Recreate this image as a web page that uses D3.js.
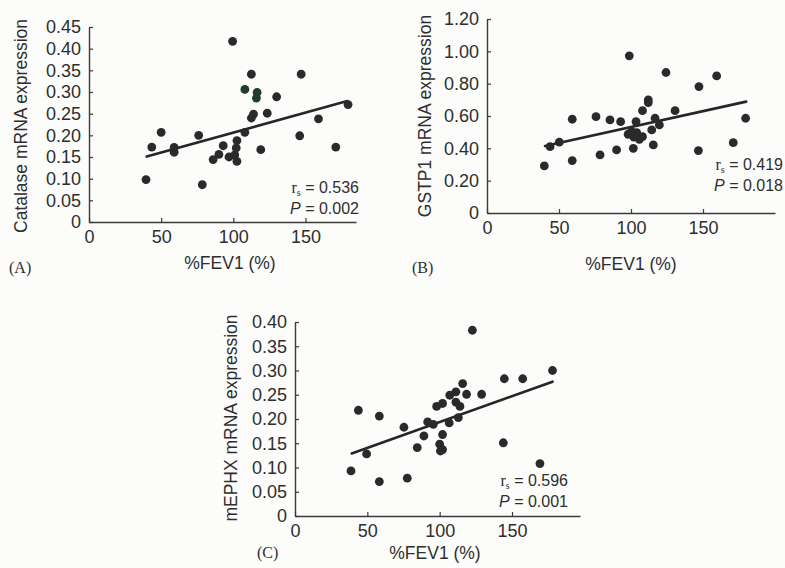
<!DOCTYPE html>
<html><head><meta charset="utf-8">
<script src="https://cdn.jsdelivr.net/npm/d3@7/dist/d3.min.js"></script>
<style>
html,body{margin:0;padding:0;background:#fcfcfb;}
svg{display:block;}
</style></head>
<body>
<svg id="c" width="785" height="568"></svg>
<script>
// ---------- data ----------
const xTicks = [0, 50, 100, 150];
const yTicksA = [0, 0.05, 0.10, 0.15, 0.20, 0.25, 0.30, 0.35, 0.40, 0.45];
const yTicksB = [0, 0.20, 0.40, 0.60, 0.80, 1.00, 1.20];
const yTicksC = [0, 0.05, 0.10, 0.15, 0.20, 0.25, 0.30, 0.35, 0.40];

// Panel A: Catalase mRNA expression vs %FEV1
const catalase = [
  [39.5,0.098],[43.5,0.173],[50,0.207],[59,0.172],[59,0.161],[76,0.200],[78.5,0.086],
  [86,0.144],[90,0.156],[93,0.176],[97,0.150],[99.5,0.417],[101,0.155],[102.5,0.140],
  [102,0.171],[102.5,0.188],[108,0.207],[112.5,0.341],[112.5,0.240],[114,0.249],
  [119,0.167],[123.5,0.251],[130,0.289],[146,0.199],[147,0.341],[159,0.238],[171,0.173],[179.5,0.271]
];
const catalaseGreen = [[108,0.306],[116.5,0.299],[116,0.286]];
const catalaseFit = [[40,0.151],[179,0.279]];

// Panel B: GSTP1 mRNA expression vs %FEV1
const gstp1 = [
  [39.8,0.291],[43.8,0.41],[50.2,0.438],[59.2,0.58],[59.2,0.324],[75.7,0.596],[78.5,0.359],
  [85.4,0.576],[90,0.39],[92.8,0.565],[98.8,0.972],[98,0.487],[100.5,0.503],[101.6,0.40],
  [102,0.469],[103.5,0.565],[104,0.497],[105.8,0.456],[108,0.472],[108,0.633],[112,0.70],
  [112,0.683],[114.4,0.514],[115.5,0.421],[116.7,0.586],[119.7,0.545],[124.3,0.869],
  [130.6,0.633],[146.8,0.386],[147.2,0.782],[159.5,0.848],[171,0.435],[179.6,0.586]
];
const gstp1Fit = [[40.3,0.415],[180,0.689]];

// Panel C: mEPHX mRNA expression vs %FEV1
const mephx = [
  [38.7,0.093],[43.8,0.218],[49.5,0.128],[58.3,0.206],[58.3,0.071],[75.3,0.183],[77.6,0.078],
  [84.5,0.141],[89.1,0.165],[91.7,0.194],[95.6,0.189],[97.9,0.226],[100,0.148],[100.5,0.134],
  [102,0.137],[102,0.232],[102,0.168],[106.6,0.192],[107,0.249],[111.2,0.256],[111.2,0.235],
  [114,0.226],[112.9,0.203],[115.9,0.273],[118.6,0.251],[122.6,0.383],[129,0.251],
  [144.7,0.283],[144,0.151],[157.4,0.283],[169.3,0.108],[178,0.30]
];
const mephxFit = [[39.2,0.129],[178,0.277]];

const statsA = ["0.536", "0.002"];
const statsB = ["0.419", "0.018"];
const statsC = ["0.596", "0.001"];

// ---------- drawing ----------
const svg = d3.select('#c');
const SANS = "'Liberation Sans', Arial, Helvetica, sans-serif";
const SERIF = "'Liberation Serif', 'Times New Roman', serif";
const INK = '#2e2e2e';

function panel(cfg) {
  const g = svg.append('g');
  const x = d3.scaleLinear().domain([0, cfg.xMax]).range([cfg.x0, cfg.x1]);
  const y = d3.scaleLinear().domain([0, cfg.yMax]).range([cfg.y0, cfg.y1]);

  const xa = d3.axisBottom(x).tickValues(xTicks).tickSizeInner(-4).tickSizeOuter(0)
    .tickPadding(8).tickFormat(d3.format('d'));
  const ya = d3.axisLeft(y).tickValues(cfg.yTicks).tickSizeInner(-4).tickSizeOuter(0)
    .tickPadding(8).tickFormat(d => d === 0 ? '0' : d3.format('.2f')(d));

  const gx = g.append('g').attr('transform', `translate(0,${cfg.y0})`).call(xa);
  const gy = g.append('g').attr('transform', `translate(${cfg.x0},0)`).call(ya);
  [gx, gy].forEach(a => {
    a.select('.domain').attr('stroke', '#3a3a3a').attr('stroke-width', 1.4);
    a.selectAll('.tick line').attr('stroke', '#3a3a3a').attr('stroke-width', 1.2);
    a.selectAll('.tick text').attr('fill', INK).style('font-family', SANS).style('font-size', '18px');
  });

  // fit line
  const line = d3.line().x(d => x(d[0])).y(d => y(d[1]));
  g.append('path').datum(cfg.fit).attr('d', line)
    .attr('fill', 'none').attr('stroke', '#262626').attr('stroke-width', 2.6).attr('stroke-linecap', 'round');

  // points
  g.selectAll('circle.p').data(cfg.pts).join('circle').attr('class', 'p')
    .attr('cx', d => x(d[0])).attr('cy', d => y(d[1])).attr('r', 4.4).attr('fill', '#2a2a2a');
  if (cfg.green) {
    g.selectAll('circle.g').data(cfg.green).join('circle').attr('class', 'g')
      .attr('cx', d => x(d[0])).attr('cy', d => y(d[1])).attr('r', 4.4).attr('fill', '#1f3d2f');
  }

  // y label
  g.append('text').attr('transform', `translate(${cfg.ylx},${cfg.yly}) rotate(-90)`)
    .attr('text-anchor', 'middle').attr('fill', INK)
    .style('font-family', SANS).style('font-size', '17.5px').text(cfg.ylabel);
  // x label
  g.append('text').attr('x', cfg.xlx).attr('y', cfg.xly).attr('text-anchor', 'middle').attr('fill', INK)
    .style('font-family', SANS).style('font-size', '17.5px').text('%FEV1 (%)');
  // panel letter
  g.append('text').attr('x', cfg.lx).attr('y', cfg.ly).attr('fill', INK)
    .style('font-family', SERIF).style('font-size', '16px').text(cfg.letter);

  // stats
  const t1 = g.append('text').attr('x', cfg.sx).attr('y', cfg.sy).attr('text-anchor', 'end').attr('fill', INK)
    .style('font-family', SANS).style('font-size', '16px');
  t1.append('tspan').style('font-family', SERIF).text('r');
  t1.append('tspan').attr('dy', 3).style('font-family', SERIF).style('font-size', '10px').text('s');
  t1.append('tspan').attr('dy', -3).text(' = ' + cfg.stats[0]);
  const t2 = g.append('text').attr('x', cfg.sx).attr('y', cfg.sy + 21).attr('text-anchor', 'end').attr('fill', INK)
    .style('font-family', SANS).style('font-size', '16px');
  t2.append('tspan').style('font-style', 'italic').text('P');
  t2.append('tspan').text(' = ' + cfg.stats[1]);
}

panel({x0: 89, x1: 356, xMax: 185, y0: 222, y1: 27, yMax: 0.45, yTicks: yTicksA,
  pts: catalase, green: catalaseGreen, fit: catalaseFit, ylabel: 'Catalase mRNA expression',
  ylx: 27, yly: 126, xlx: 230, xly: 269, letter: '(A)', lx: 9, ly: 273,
  sx: 359, sy: 193, stats: statsA});

panel({x0: 487, x1: 775, xMax: 200, y0: 213, y1: 19, yMax: 1.2, yTicks: yTicksB,
  pts: gstp1, fit: gstp1Fit, ylabel: 'GSTP1 mRNA expression',
  ylx: 431, yly: 116, xlx: 631, xly: 270, letter: '(B)', lx: 412, ly: 273,
  sx: 783, sy: 170, stats: statsB});

panel({x0: 295, x1: 580, xMax: 197, y0: 516, y1: 322, yMax: 0.4, yTicks: yTicksC,
  pts: mephx, fit: mephxFit, ylabel: 'mEPHX mRNA expression',
  ylx: 237, yly: 418, xlx: 435, xly: 559, letter: '(C)', lx: 257, ly: 558,
  sx: 568, sy: 486, stats: statsC});
</script>
</body></html>
